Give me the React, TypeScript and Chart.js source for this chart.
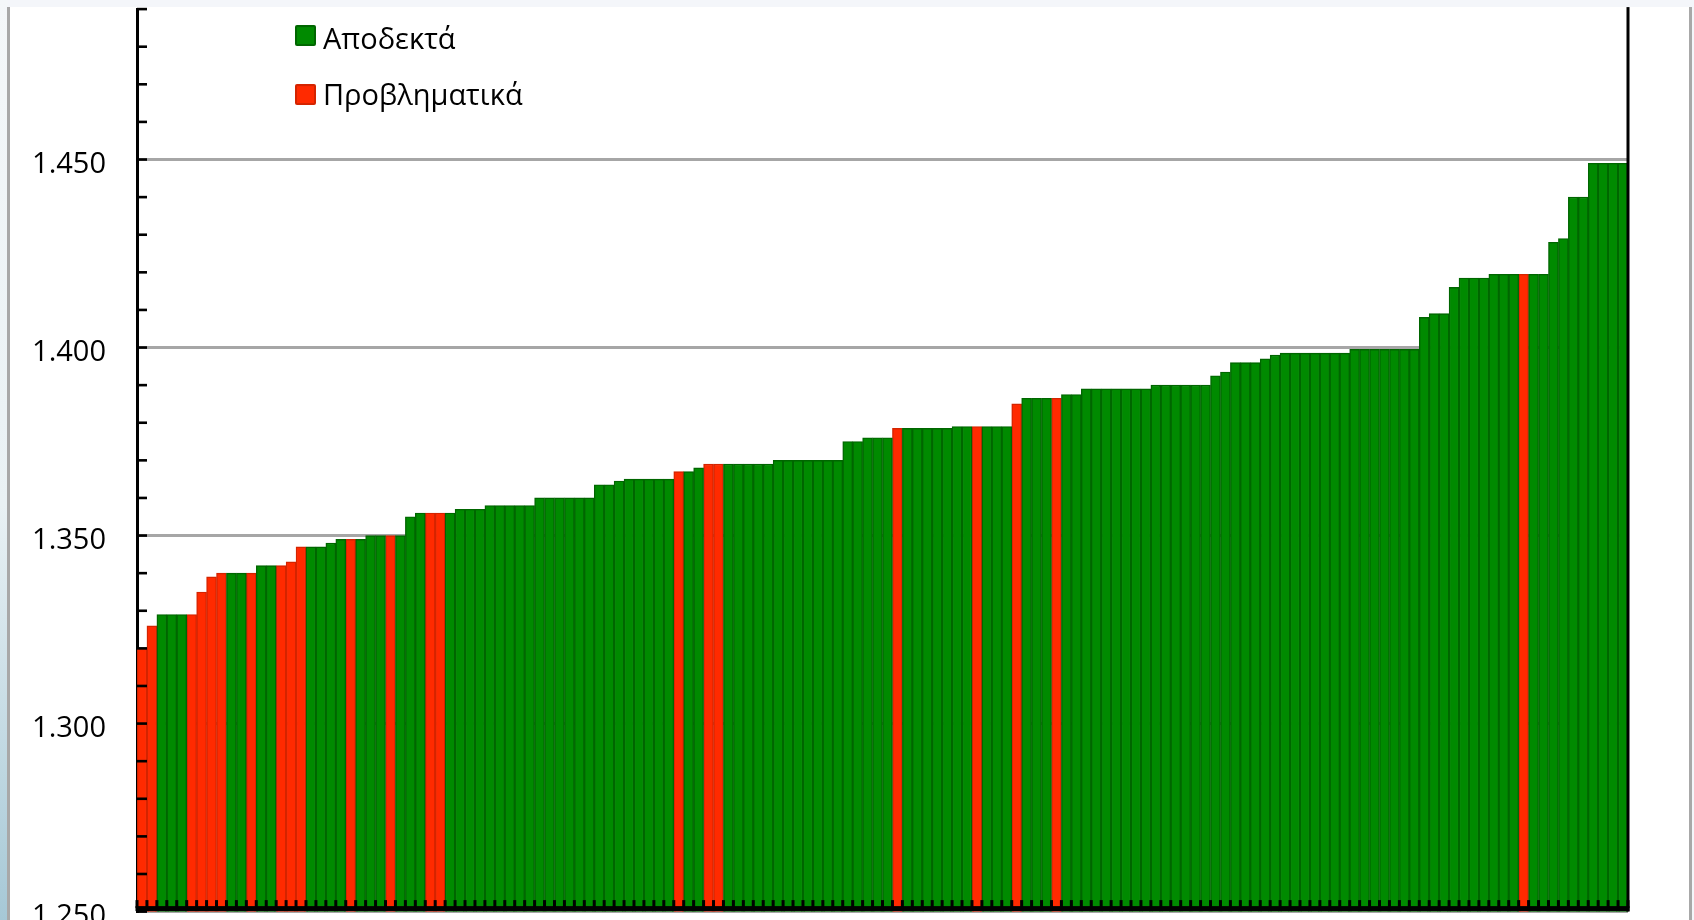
import React, { useEffect, useRef } from "react";
import { Chart, registerables } from "chart.js";

Chart.register(...registerables);

// Bar values, left to right (sorted ascending)
const values: number[] = [
  1.320, 1.326, 1.329, 1.329, 1.329, 1.329, 1.335, 1.339, 1.340, 1.340,
  1.340, 1.340, 1.342, 1.342, 1.342, 1.343, 1.347, 1.347, 1.347, 1.348,
  1.349, 1.349, 1.349, 1.350, 1.350, 1.350, 1.350, 1.355, 1.356, 1.356,
  1.356, 1.356, 1.357, 1.357, 1.357, 1.358, 1.358, 1.358, 1.358, 1.358,
  1.360, 1.360, 1.360, 1.360, 1.360, 1.360, 1.3635, 1.3635, 1.3645, 1.365,
  1.365, 1.365, 1.365, 1.365, 1.367, 1.367, 1.368, 1.369, 1.369, 1.369,
  1.369, 1.369, 1.369, 1.369, 1.370, 1.370, 1.370, 1.370, 1.370, 1.370,
  1.370, 1.375, 1.375, 1.376, 1.376, 1.376, 1.3785, 1.3785, 1.3785, 1.3785,
  1.3785, 1.3785, 1.379, 1.379, 1.379, 1.379, 1.379, 1.379, 1.385, 1.3865,
  1.3865, 1.3865, 1.3865, 1.3875, 1.3875, 1.389, 1.389, 1.389, 1.389, 1.389,
  1.389, 1.389, 1.390, 1.390, 1.390, 1.390, 1.390, 1.390, 1.3925, 1.3935,
  1.396, 1.396, 1.396, 1.397, 1.398, 1.3985, 1.3985, 1.3985, 1.3985, 1.3985,
  1.3985, 1.3985, 1.3995, 1.3995, 1.3995, 1.3995, 1.3995, 1.3995, 1.3995, 1.408,
  1.409, 1.409, 1.416, 1.4185, 1.4185, 1.4185, 1.4195, 1.4195, 1.4195, 1.4195,
  1.4195, 1.4195, 1.428, 1.429, 1.440, 1.440, 1.449, 1.449, 1.449, 1.449,
];

// 1-based positions of the "problematic" (red) bars
const problematicBars: number[] = [
  1, 2, 6, 7, 8, 9, 12, 15, 16, 17, 22, 26, 30, 31, 55, 58, 59, 77, 85, 89, 93, 140,
];

const seriesNames: string[] = ["Αποδεκτά", "Προβληματικά"];
const seriesFill: string[] = ["#008a00", "#ff2a00"];
const seriesBorder: string[] = ["#006600", "#d42400"];

const yMin = 1.25;
const yMax = 1.49;
const yMajorStep = 0.05;
const yMinorStep = 0.01;

const categories: string[] = values.map((_, i) => String(i + 1));

const FONT = "'Open Sans', 'Noto Sans', sans-serif";

const decorPlugin = {
  id: "decor",
  afterDatasetsDraw(chart: any) {
    const { ctx, chartArea, scales } = chart;
    const { left, right, top, bottom } = chartArea;
    const x = scales.x;
    const y = scales.y;
    ctx.save();
    ctx.fillStyle = "#000";
    // right border of plot area
    ctx.fillRect(right - 1.5, top - 2, 3, bottom - top + 2);
    // y minor / major ticks pointing inside
    const n = Math.round((yMax - yMin) / yMinorStep);
    for (let i = 0; i <= n; i++) {
      const v = yMin + i * yMinorStep;
      const py = y.getPixelForValue(v);
      ctx.fillRect(left, py - 1.3, 10, 2.6);
    }
    // category boundary ticks on the x axis
    const count = values.length;
    const step = x.getPixelForValue(1) - x.getPixelForValue(0);
    for (let i = 0; i <= count; i++) {
      const px = i < count ? x.getPixelForValue(i) - step / 2 : right;
      ctx.fillRect(px - 1.5, bottom - 11.5, 3, 8);
    }
    // bottom axis line
    ctx.fillRect(left - 1.5, bottom - 5.5, right - left + 3, 5);
    ctx.restore();
  },
  afterDraw(chart: any) {
    const { ctx, chartArea } = chart;
    const { left, top } = chartArea;
    ctx.save();
    const items = [
      { sq: 16, base: 39.5 },
      { sq: 75, base: 96 },
    ];
    items.forEach((it, i) => {
      const sx = left + 158;
      const sy = top + it.sq;
      ctx.fillStyle = seriesBorder[i];
      ctx.beginPath();
      (ctx as any).roundRect(sx, sy, 21, 21, 2);
      ctx.fill();
      ctx.fillStyle = seriesFill[i];
      ctx.fillRect(sx + 2, sy + 2, 17, 17);
      ctx.fillStyle = "#000";
      ctx.font = `29px ${FONT}`;
      ctx.textAlign = "left";
      ctx.textBaseline = "alphabetic";
      ctx.fillText(seriesNames[i], left + 186, top + it.base);
    });
    ctx.restore();
  },
};

function BarChart() {
  const ref = useRef<HTMLCanvasElement | null>(null);
  useEffect(() => {
    if (!ref.current) return;
    const isProblem = (i: number) => problematicBars.includes(i + 1);
    const accepted = values.map((v, i) => (isProblem(i) ? null : v));
    const problem = values.map((v, i) => (isProblem(i) ? v : null));
    const chart = new Chart(ref.current, {
      type: "bar",
      data: {
        labels: categories,
        datasets: [
          {
            label: seriesNames[0],
            data: accepted as any,
            backgroundColor: seriesFill[0],
            borderColor: seriesBorder[0],
            borderWidth: 1.4,
            grouped: false,
            categoryPercentage: 1,
            barPercentage: 1,
          },
          {
            label: seriesNames[1],
            data: problem as any,
            backgroundColor: seriesFill[1],
            borderColor: seriesBorder[1],
            borderWidth: 1.4,
            grouped: false,
            categoryPercentage: 1,
            barPercentage: 1,
          },
        ],
      },
      options: {
        responsive: false,
        animation: false,
        layout: { padding: { left: 0, right: 66, top: 49.1, bottom: 46.5 } },
        plugins: {
          legend: { display: false },
          tooltip: { enabled: false },
        },
        scales: {
          x: {
            display: false,
            offset: true,
            grid: { display: false },
          },
          y: {
            min: yMin,
            max: yMax,
            afterBuildTicks: (scale: any) => {
              scale.ticks = scale.ticks.filter(
                (t: any) => Math.abs(t.value / yMajorStep - Math.round(t.value / yMajorStep)) < 1e-6
              );
            },
            afterFit: (scale: any) => {
              scale.width = 137;
            },
            ticks: {
              stepSize: yMajorStep,
              padding: 31,
              labelOffset: 5,
              color: "#000",
              font: { family: FONT, size: 29 },
              callback: (v: any) => Number(v).toFixed(3),
            },
            grid: {
              color: "#a6a6a6",
              lineWidth: 3,
              drawTicks: false,
            },
            border: { display: true, color: "#000", width: 3 },
          },
        },
      },
      plugins: [decorPlugin],
    });
    return () => chart.destroy();
  }, []);
  return (
    <canvas
      ref={ref}
      width={1694}
      height={1000}
      style={{ position: "absolute", left: 0, top: -40, width: 1694, height: 1000 }}
    />
  );
}

export default function App() {
  return (
    <div
      style={{
        position: "fixed",
        left: 0,
        top: 0,
        width: 1694,
        height: 920,
        overflow: "hidden",
        background: "#f4f6fa",
      }}
    >
      <div
        style={{
          position: "absolute",
          left: 0,
          top: 0,
          width: 8,
          height: 920,
          background: "linear-gradient(#f4f7f9 0%, #e9f1f4 55%, #a6c8d6 100%)",
        }}
      />
      <div
        style={{
          position: "absolute",
          left: 7,
          top: 7,
          width: 1685,
          height: 913,
          boxSizing: "border-box",
          background: "#ffffff",
          borderLeft: "3px solid #a8a8a8",
          borderRight: "3px solid #a8a8a8",
        }}
      />
      <BarChart />
    </div>
  );
}
